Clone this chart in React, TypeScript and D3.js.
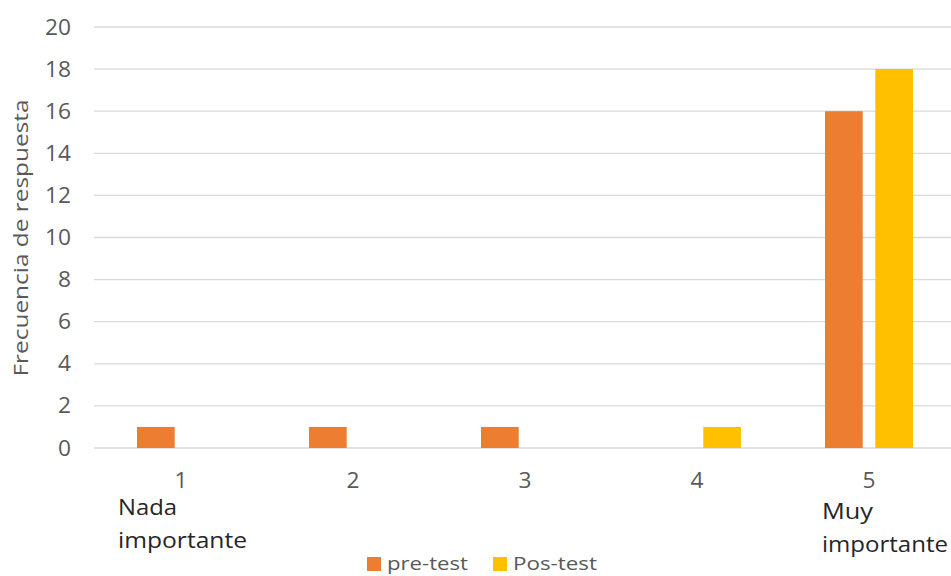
import React from "react";
import * as d3 from "d3";

const categories = ["1", "2", "3", "4", "5"];
const seriesNames = ["pre-test", "Pos-test"];
const preTest = [1, 1, 1, 0, 16];
const posTest = [0, 0, 0, 1, 18];
const yTicks = [0, 2, 4, 6, 8, 10, 12, 14, 16, 18, 20];
const colors = ["#ED7D31", "#FFC000"];

const W = 951;
const H = 576;
const FONT = "'Open Sans', 'DejaVu Sans', sans-serif";

export default function App() {
  const x = d3.scaleBand<string>().domain(categories).range([94, 954]).padding(0);
  const y = d3.scaleLinear().domain([0, 20]).range([448, 27]);
  const x1 = d3.scaleBand<string>().domain(seriesNames).range([-43, 45]).paddingInner(0.25);
  const values = [preTest, posTest];

  return (
    <svg width={W} height={H} style={{ position: "absolute", left: 0, top: 0 }} fontFamily={FONT}>
      <rect width={W} height={H} fill="#fff" />
      {yTicks.map((t) => (
        <g key={t}>
          <line x1={94} x2={954} y1={y(t)} y2={y(t)} stroke="#D9D9D9" strokeWidth={1.3} />
          <text
            x={71}
            y={y(t)}
            dy="0.36em"
            textAnchor="end"
            fontSize={21}
            fill="#595959"
            textLength={String(t).length * 13}
            lengthAdjust="spacingAndGlyphs"
          >
            {t}
          </text>
        </g>
      ))}
      {categories.map((c, i) => {
        const cx = (x(c) as number) + x.bandwidth() / 2;
        return (
          <g key={c}>
            {seriesNames.map((s, si) => {
              const v = values[si][i];
              if (v <= 0) return null;
              return (
                <rect
                  key={s}
                  x={cx + (x1(s) as number)}
                  y={y(v)}
                  width={x1.bandwidth()}
                  height={y(0) - y(v)}
                  fill={colors[si]}
                />
              );
            })}
            <text
              x={cx + 1}
              y={488}
              textAnchor="middle"
              fontSize={21}
              fill="#595959"
              textLength={13}
              lengthAdjust="spacingAndGlyphs"
            >
              {c}
            </text>
          </g>
        );
      })}
      <text x={118} y={515} fontSize={21} fill="#262626" textLength={59} lengthAdjust="spacingAndGlyphs">Nada</text>
      <text x={118} y={548} fontSize={21} fill="#262626" textLength={129} lengthAdjust="spacingAndGlyphs">importante</text>
      <text x={822} y={519} fontSize={21} fill="#262626" textLength={51} lengthAdjust="spacingAndGlyphs">Muy</text>
      <text x={822} y={552} fontSize={21} fill="#262626" textLength={126} lengthAdjust="spacingAndGlyphs">importante</text>
      <text
        transform={`translate(28,238) rotate(-90)`}
        textAnchor="middle"
        fontSize={20}
        fill="#595959"
        textLength={277}
        lengthAdjust="spacingAndGlyphs"
      >
        Frecuencia de respuesta
      </text>
      <g>
        <rect x={367} y={557} width={14} height={14} fill={colors[0]} />
        <text x={387} y={570} fontSize={19} fill="#595959" textLength={81} lengthAdjust="spacingAndGlyphs">{seriesNames[0]}</text>
        <rect x={493} y={557} width={14} height={14} fill={colors[1]} />
        <text x={513} y={570} fontSize={19} fill="#595959" textLength={84} lengthAdjust="spacingAndGlyphs">{seriesNames[1]}</text>
      </g>
    </svg>
  );
}
